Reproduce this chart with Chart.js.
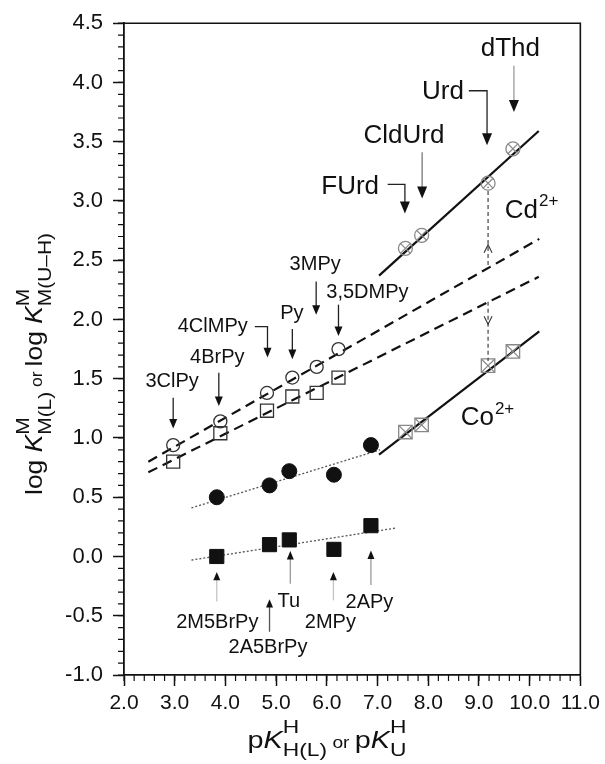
<!doctype html>
<html><head><meta charset="utf-8">
<script src="https://cdn.jsdelivr.net/npm/chart.js"></script>
<style>
  html, body { margin: 0; padding: 0; background: #fff; }
  canvas { display: block; }
</style>
</head><body>
<canvas id="chart" width="605" height="764"></canvas>
<script>
// values (pK on x, log K on y)
const xTicks = [2, 3, 4, 5, 6, 7, 8, 9, 10, 11];
const yTicks = [-1, -0.5, 0, 0.5, 1, 1.5, 2, 2.5, 3, 3.5, 4, 4.5];

const pyrLigands = ['3ClPy', '4BrPy', '4ClMPy', 'Py', '3MPy', '3,5DMPy'];
const pyrPK = [2.97, 3.90, 4.82, 5.32, 5.80, 6.23];
const cdPyrLogK = [0.94, 1.14, 1.38, 1.51, 1.60, 1.75];
const coPyrLogK = [0.80, 1.04, 1.23, 1.35, 1.38, 1.51];

const orthoLigands = ['2M5BrPy', '2A5BrPy', 'Tu', '2MPy', '2APy'];
const orthoPK = [3.83, 4.87, 5.26, 6.14, 6.87];
const cdOrthoLogK = [0.50, 0.60, 0.72, 0.69, 0.94];
const coOrthoLogK = [0.00, 0.10, 0.14, 0.06, 0.26];

const uraLigands = ['FUrd', 'CldUrd', 'Urd', 'dThd'];
const uraPK = [7.55, 7.87, 9.18, 9.67];
const cdUraLogK = [2.60, 2.71, 3.15, 3.44];
const coUraLogK = [1.05, 1.11, 1.61, 1.73];

// regression lines, end points
const cdUraLineX = [7.03, 10.18], cdUraLineY = [2.37, 3.59];
const coUraLineX = [7.03, 10.19], coUraLineY = [0.86, 1.90];
const cdPyrLineX = [2.48, 10.19], cdPyrLineY = [0.80, 2.68];
const coPyrLineX = [2.48, 10.18], coPyrLineY = [0.71, 2.36];
const cdOrthoLineX = [3.33, 7.05], cdOrthoLineY = [0.41, 0.90];
const coOrthoLineX = [3.33, 7.36], coOrthoLineY = [-0.03, 0.24];

// labels and pointer arrows (data units)
const labels = [
  { t: '3ClPy', x: 2.95, y: 1.48, s: 20 },
  { t: '4BrPy', x: 3.84, y: 1.68, s: 20 },
  { t: '4ClMPy', x: 3.75, y: 1.94, s: 20 },
  { t: 'Py', x: 5.31, y: 2.05, s: 20 },
  { t: '3MPy', x: 5.77, y: 2.46, s: 20 },
  { t: '3,5DMPy', x: 6.80, y: 2.23, s: 20 },
  { t: 'dThd', x: 9.62, y: 4.28, s: 26 },
  { t: 'Urd', x: 8.29, y: 3.92, s: 26 },
  { t: 'CldUrd', x: 7.52, y: 3.55, s: 26 },
  { t: 'FUrd', x: 6.46, y: 3.12, s: 26 },
  { t: '2M5BrPy', x: 3.84, y: -0.56, s: 20 },
  { t: '2A5BrPy', x: 4.84, y: -0.77, s: 20 },
  { t: 'Tu', x: 5.25, y: -0.38, s: 20 },
  { t: '2MPy', x: 6.07, y: -0.56, s: 20 },
  { t: '2APy', x: 6.84, y: -0.39, s: 20 }
];
const pointers = [
  { x: 2.97, y1: 1.34, y2: 1.08, h: 8 },
  { x: 3.87, y1: 1.55, y2: 1.27, h: 8 },
  { x: 4.83, y1: 1.94, y2: 1.68, h: 8, from: 4.58 },
  { x: 5.32, y1: 1.92, y2: 1.665, h: 8 },
  { x: 5.79, y1: 2.32, y2: 2.04, h: 8 },
  { x: 6.23, y1: 2.125, y2: 1.86, h: 8 },
  { x: 9.69, y1: 4.14, y2: 3.75, h: 10, c: '#9a9a9a' },
  { x: 9.16, y1: 3.93, y2: 3.47, h: 10, from: 8.80 },
  { x: 7.88, y1: 3.41, y2: 3.02, h: 10, c: '#777' },
  { x: 7.54, y1: 3.14, y2: 2.895, h: 10, from: 7.20 },
  { x: 3.83, y1: -0.38, y2: -0.13, h: 7, c: '#c4c4c4' },
  { x: 4.87, y1: -0.635, y2: -0.36, h: 7, c: '#555' },
  { x: 5.28, y1: -0.23, y2: 0.046, h: 7, c: '#999' },
  { x: 6.13, y1: -0.37, y2: -0.13, h: 7, c: '#c4c4c4' },
  { x: 6.87, y1: -0.24, y2: 0.05, h: 7, c: '#999' }
];
const diffArrows = [
  { x: 9.18, y1: 2.46, y2: 3.12, head: 2.63, up: true },
  { x: 9.18, y1: 2.15, y2: 1.65, head: 1.96, up: false }
];
const metals = [
  { t: 'Cd', sup: '2+', x: 9.51, y: 2.92 },
  { t: 'Co', sup: '2+', x: 8.64, y: 1.17 }
];

const FAM = '"Liberation Sans", Arial, Helvetica, sans-serif';
const pts = (xs, ys) => xs.map((x, i) => ({ x, y: ys[i] }));
const fnt = (size, italic) => (italic ? 'italic ' : '') + size + 'px ' + FAM;

function marker(data, style, r, color, fill, width, order) {
  return {
    data, showLine: false, pointStyle: style, pointRadius: r,
    pointBorderColor: color, pointBackgroundColor: fill,
    pointBorderWidth: width, order
  };
}
function line(xs, ys, width, dash, color, order) {
  return {
    data: pts(xs, ys), showLine: true, pointRadius: 0, borderColor: color,
    borderWidth: width, borderDash: dash, order
  };
}

function richRun(ctx, parts, x, y, draw) {
  let cx = x;
  parts.forEach(p => {
    if (p.sup !== undefined) {
      ctx.font = fnt(p.size);
      const w1 = ctx.measureText(p.sup).width;
      const w2 = ctx.measureText(p.sub || '').width;
      if (draw) {
        ctx.fillText(p.sup, cx, y - p.up);
        if (p.sub) ctx.fillText(p.sub, cx, y + p.down);
      }
      cx += Math.max(w1, w2);
    } else {
      ctx.font = fnt(p.size, p.italic);
      if (draw) ctx.fillText(p.t, cx, y);
      cx += ctx.measureText(p.t).width;
    }
  });
  return cx - x;
}
// title drawn around (cx, y) with a horizontal stretch like the original
function richCentered(ctx, parts, cx, y, stretch) {
  const w = richRun(ctx, parts, 0, 0, false);
  ctx.save();
  ctx.translate(cx, y);
  ctx.scale(stretch, 1);
  richRun(ctx, parts, -w / 2, 0, true);
  ctx.restore();
}

function head(ctx, x, y, size, down) {
  const d = down ? 1 : -1;
  ctx.beginPath();
  ctx.moveTo(x, y);
  ctx.lineTo(x - size / 2, y - d * size * 1.2);
  ctx.lineTo(x + size / 2, y - d * size * 1.2);
  ctx.closePath();
  ctx.fill();
}

const decor = {
  id: 'decor',
  afterDraw(chart) {
    const ctx = chart.ctx, a = chart.chartArea;
    const sx = chart.scales.x, sy = chart.scales.y;
    const X = v => sx.getPixelForValue(v), Y = v => sy.getPixelForValue(v);
    ctx.save();
    // frame top/right
    ctx.strokeStyle = '#111';
    ctx.lineWidth = 1.6;
    ctx.beginPath();
    ctx.moveTo(a.left, a.top); ctx.lineTo(a.right, a.top); ctx.lineTo(a.right, a.bottom);
    ctx.stroke();
    // minor ticks
    ctx.lineWidth = 1.2;
    ctx.beginPath();
    for (let i = 0; i <= 55; i++) {
      const py = Y(-1 + i * 0.1);
      ctx.moveTo(a.left - 6, py); ctx.lineTo(a.left, py);
    }
    for (let i = 0; i <= 45; i++) {
      const px = X(2 + i * 0.2);
      ctx.moveTo(px, a.bottom); ctx.lineTo(px, a.bottom + 6);
    }
    ctx.stroke();

    // pointer arrows
    pointers.forEach(p => {
      const x = X(p.x), y1 = Y(p.y1), y2 = Y(p.y2);
      const down = y2 > y1;
      const hl = p.h * 1.2;
      ctx.strokeStyle = p.c || '#222';
      ctx.lineWidth = 1.3;
      ctx.beginPath();
      if (p.from !== undefined) { ctx.moveTo(X(p.from), y1); ctx.lineTo(x, y1); }
      else ctx.moveTo(x, y1);
      ctx.lineTo(x, down ? y2 - hl + 1 : y2 + hl - 1);
      ctx.stroke();
      ctx.fillStyle = '#111';
      head(ctx, x, y2, p.h, down);
    });

    // dashed difference arrows
    diffArrows.forEach(d => {
      const x = X(d.x);
      ctx.strokeStyle = '#333';
      ctx.lineWidth = 1.1;
      ctx.setLineDash([4, 3]);
      ctx.beginPath();
      ctx.moveTo(x, Y(d.y1)); ctx.lineTo(x, Y(d.y2));
      ctx.stroke();
      ctx.setLineDash([]);
      const hy = Y(d.head), s = d.up ? 1 : -1;
      ctx.beginPath();
      ctx.moveTo(x - 4, hy + s * 8); ctx.lineTo(x, hy); ctx.lineTo(x + 4, hy + s * 8);
      ctx.stroke();
    });

    // text labels
    ctx.fillStyle = '#111';
    ctx.textAlign = 'center';
    ctx.textBaseline = 'middle';
    labels.forEach(l => {
      ctx.font = fnt(l.s);
      ctx.fillText(l.t, X(l.x), Y(l.y));
    });
    ctx.textAlign = 'left';
    metals.forEach(m => {
      ctx.font = fnt(26);
      ctx.fillText(m.t, X(m.x), Y(m.y));
      const w = ctx.measureText(m.t).width;
      ctx.font = fnt(17);
      ctx.fillText(m.sup, X(m.x) + w + 1, Y(m.y) - 9);
    });

    // axis titles
    ctx.textBaseline = 'alphabetic';
    const xTitle = [
      { t: 'p', size: 24 }, { t: 'K', size: 24, italic: true },
      { sup: 'H', sub: 'H(L)', size: 19, up: 15, down: 8 },
      { t: ' or ', size: 16 },
      { t: 'p', size: 24 }, { t: 'K', size: 24, italic: true },
      { sup: 'H', sub: 'U', size: 19, up: 15, down: 8 }
    ];
    richCentered(ctx, xTitle, 327, 748, 1.2);
    const yTitle = [
      { t: 'log ', size: 24 }, { t: 'K', size: 24, italic: true },
      { sup: 'M', sub: 'M(L)', size: 19, up: 13, down: 9 },
      { t: ' or ', size: 16 },
      { t: 'log ', size: 24 }, { t: 'K', size: 24, italic: true },
      { sup: 'M', sub: 'M(U\u2013H)', size: 19, up: 13, down: 9 }
    ];
    ctx.translate(42, 364);
    ctx.rotate(-Math.PI / 2);
    richCentered(ctx, yTitle, 0, 0, 1.1);
    ctx.restore();
  }
};

Chart.defaults.font.family = FAM;
new Chart(document.getElementById('chart'), {
  type: 'scatter',
  data: {
    datasets: [
      line(cdUraLineX, cdUraLineY, 2.2, [], '#111', 5),
      line(coUraLineX, coUraLineY, 2.2, [], '#111', 5),
      line(cdPyrLineX, cdPyrLineY, 2.2, [10, 6], '#111', 5),
      line(coPyrLineX, coPyrLineY, 2.2, [10, 6], '#111', 5),
      line(cdOrthoLineX, cdOrthoLineY, 1.3, [2, 2], '#555', 5),
      line(coOrthoLineX, coOrthoLineY, 1.3, [2, 2], '#555', 5),
      marker(pts(pyrPK, cdPyrLogK), 'circle', 6.5, '#333', 'rgba(255,255,255,0)', 1.3, 2),
      marker(pts(pyrPK, coPyrLogK), 'rect', 9.2, '#333', 'rgba(255,255,255,0)', 1.3, 2),
      marker(pts(orthoPK, cdOrthoLogK), 'circle', 7.5, '#111', '#111', 1, 1),
      marker(pts(orthoPK, coOrthoLogK), 'rect', 10, '#111', '#111', 1, 1),
      marker(pts(uraPK, cdUraLogK), 'circle', 7, '#888', 'rgba(255,255,255,0)', 1.3, 2),
      marker(pts(uraPK, cdUraLogK), 'crossRot', 7, '#888', 'rgba(255,255,255,0)', 1.2, 2),
      marker(pts(uraPK, coUraLogK), 'rect', 9.5, '#888', 'rgba(255,255,255,0)', 1.3, 2),
      marker(pts(uraPK, coUraLogK), 'crossRot', 9.5, '#888', 'rgba(255,255,255,0)', 1.2, 2)
    ]
  },
  options: {
    responsive: false,
    devicePixelRatio: 1,
    animation: false,
    layout: { padding: { top: 21, right: 23, left: 0, bottom: 0 } },
    plugins: { legend: { display: false }, tooltip: { enabled: false } },
    scales: {
      x: {
        type: 'linear', min: 2, max: 11,
        afterBuildTicks: s => { s.ticks = xTicks.map(v => ({ value: v })); },
        afterFit: s => { s.height = 89; },
        ticks: { callback: v => Number(v).toFixed(1), font: { size: 21 }, color: '#111', padding: 5, maxRotation: 0, autoSkip: false },
        grid: { drawOnChartArea: false, drawTicks: true, tickLength: 11, tickWidth: 1.5, tickColor: '#111' },
        border: { color: '#111', width: 1.8 }
      },
      y: {
        type: 'linear', min: -1, max: 4.5,
        afterBuildTicks: s => { s.ticks = yTicks.map(v => ({ value: v })); },
        afterFit: s => { s.width = 124; },
        ticks: { callback: v => Number(v).toFixed(1), font: { size: 22 }, color: '#111', padding: 10, autoSkip: false },
        grid: { drawOnChartArea: false, drawTicks: true, tickLength: 11, tickWidth: 1.5, tickColor: '#111' },
        border: { color: '#111', width: 1.8 }
      }
    }
  },
  plugins: [decor]
});
</script>
</body></html>
